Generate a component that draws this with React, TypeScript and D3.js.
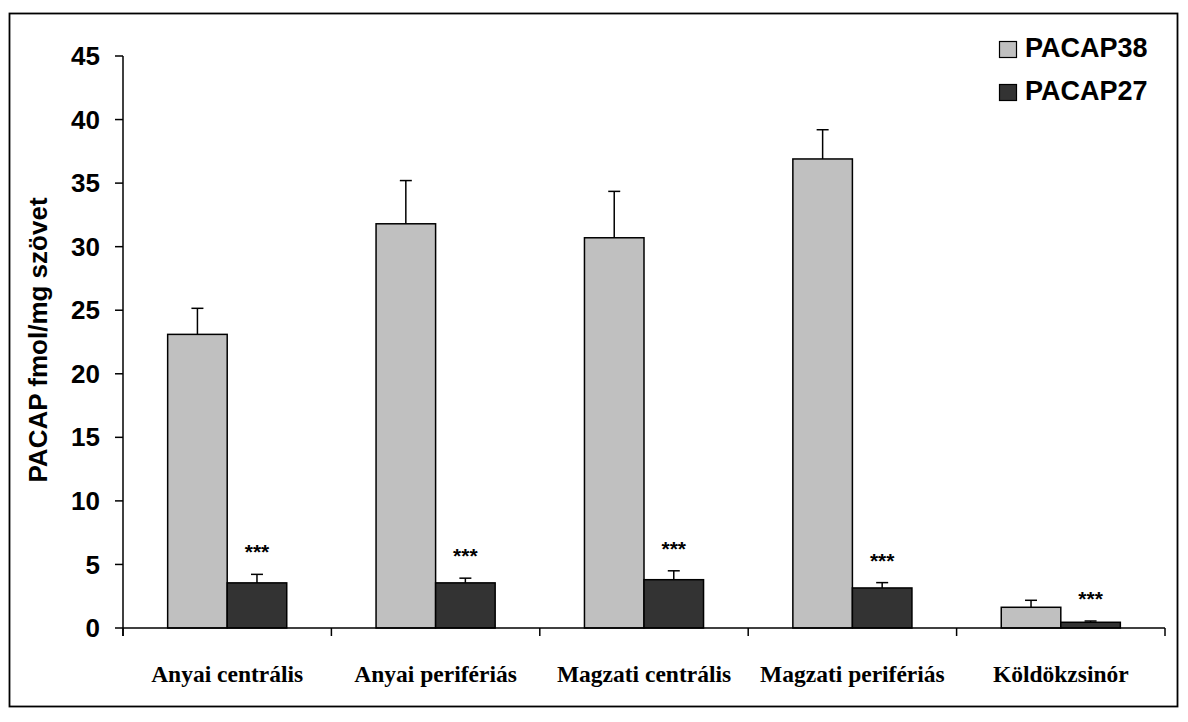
import React from "react";
import * as d3 from "d3";

// Tissue regions on the category axis
const categories: string[] = [
  "Anyai centrális",
  "Anyai perifériás",
  "Magzati centrális",
  "Magzati perifériás",
  "Köldökzsinór",
];

const seriesNames: string[] = ["PACAP38", "PACAP27"];

// Mean concentrations (fmol/mg tissue) and their SEM
const pacap38: number[] = [23.1, 31.8, 30.7, 36.9, 1.63];
const pacap38Err: number[] = [2.05, 3.4, 3.65, 2.3, 0.55];
const pacap27: number[] = [3.55, 3.55, 3.8, 3.15, 0.45];
const pacap27Err: number[] = [0.67, 0.37, 0.7, 0.42, 0.1];

// Significance markers placed over the PACAP27 bars
const significance: string[] = ["***", "***", "***", "***", "***"];

const yTicks: number[] = [0, 5, 10, 15, 20, 25, 30, 35, 40, 45];
const yLabel = "PACAP fmol/mg szövet";

const W = 1188;
const H = 722;
const fills = ["#c0c0c0", "#333333"];
const sans = "'Liberation Sans', Arial, Helvetica, sans-serif";
const serif = "'Liberation Serif', 'Times New Roman', Times, serif";

export default function App() {
  const plotLeft = 123;
  const plotRight = 1165;
  const plotTop = 56;
  const plotBottom = 628;

  const x0 = d3
    .scaleBand<string>()
    .domain(categories)
    .range([plotLeft, plotRight])
    .paddingInner(0)
    .paddingOuter(0);

  const band = x0.bandwidth();
  const barW = band / 3.5; // 150% gap between groups
  const gap = band - 2 * barW;
  const x1 = d3
    .scaleBand<string>()
    .domain(seriesNames)
    .range([gap / 2, band - gap / 2])
    .padding(0);

  const y = d3.scaleLinear().domain([0, 45]).range([plotBottom, plotTop]);

  const values = [pacap38, pacap27];
  const errors = [pacap38Err, pacap27Err];

  const boundaries = d3.range(categories.length + 1).map(
    (i) => plotLeft + i * band
  );

  return (
    <svg
      width={W}
      height={H}
      style={{ position: "absolute", left: 0, top: 0, display: "block", background: "#fff" }}
    >
      {/* outer frame */}
      <rect x={9.5} y={13.5} width={1168} height={693} fill="none" stroke="#000" strokeWidth={1.8} />

      {/* bars */}
      {seriesNames.map((s, si) => (
        <g key={s}>
          {categories.map((c, ci) => {
            const v = values[si][ci];
            const bx = (x0(c) as number) + (x1(s) as number);
            return (
              <rect
                key={c}
                x={bx}
                y={y(v)}
                width={x1.bandwidth()}
                height={y(0) - y(v)}
                fill={fills[si]}
                stroke="#000"
                strokeWidth={1.5}
              />
            );
          })}
        </g>
      ))}

      {/* error bars (upper only) */}
      {seriesNames.map((s, si) => (
        <g key={s + "-err"} stroke="#000" strokeWidth={1.5}>
          {categories.map((c, ci) => {
            const v = values[si][ci];
            const e = errors[si][ci];
            const cx = (x0(c) as number) + (x1(s) as number) + x1.bandwidth() / 2;
            return (
              <g key={c}>
                <line x1={cx} x2={cx} y1={y(v)} y2={y(v + e)} />
                <line x1={cx - 6} x2={cx + 6} y1={y(v + e)} y2={y(v + e)} />
              </g>
            );
          })}
        </g>
      ))}

      {/* significance stars */}
      {categories.map((c, ci) => {
        const cx = (x0(c) as number) + (x1("PACAP27") as number) + x1.bandwidth() / 2;
        return (
          <text
            key={c + "-sig"}
            x={cx}
            y={y(pacap27[ci] + pacap27Err[ci]) - 15}
            textAnchor="middle"
            fontFamily={sans}
            fontWeight="bold"
            fontSize={21}
          >
            {significance[ci]}
          </text>
        );
      })}

      {/* y axis */}
      <line x1={plotLeft} x2={plotLeft} y1={plotTop} y2={plotBottom + 8} stroke="#000" strokeWidth={1.5} />
      {yTicks.map((t) => (
        <g key={t}>
          <line x1={plotLeft - 8} x2={plotLeft} y1={y(t)} y2={y(t)} stroke="#000" strokeWidth={1.5} />
          <text
            x={100}
            y={y(t)}
            dy="0.35em"
            textAnchor="end"
            fontFamily={sans}
            fontWeight="bold"
            fontSize={26}
          >
            {t}
          </text>
        </g>
      ))}
      <text
        transform={`translate(47, 340) rotate(-90)`}
        textAnchor="middle"
        fontFamily={sans}
        fontWeight="bold"
        fontSize={26}
      >
        {yLabel}
      </text>

      {/* x axis */}
      <line x1={plotLeft} x2={plotRight} y1={plotBottom} y2={plotBottom} stroke="#000" strokeWidth={1.5} />
      {boundaries.map((bx, i) => (
        <line key={i} x1={bx} x2={bx} y1={plotBottom} y2={plotBottom + 8} stroke="#000" strokeWidth={1.5} />
      ))}
      {categories.map((c) => (
        <text
          key={c + "-lbl"}
          x={(x0(c) as number) + band / 2}
          y={682}
          textAnchor="middle"
          fontFamily={serif}
          fontWeight="bold"
          fontSize={23.5}
        >
          {c}
        </text>
      ))}

      {/* legend */}
      {seriesNames.map((s, si) => (
        <g key={s + "-leg"} transform={`translate(999, ${41 + si * 43})`}>
          <rect x={0.5} y={0.5} width={17} height={16} fill={fills[si]} stroke="#000" strokeWidth={1.2} />
          <text x={26} y={16} fontFamily={sans} fontWeight="bold" fontSize={27}>
            {s}
          </text>
        </g>
      ))}
    </svg>
  );
}
